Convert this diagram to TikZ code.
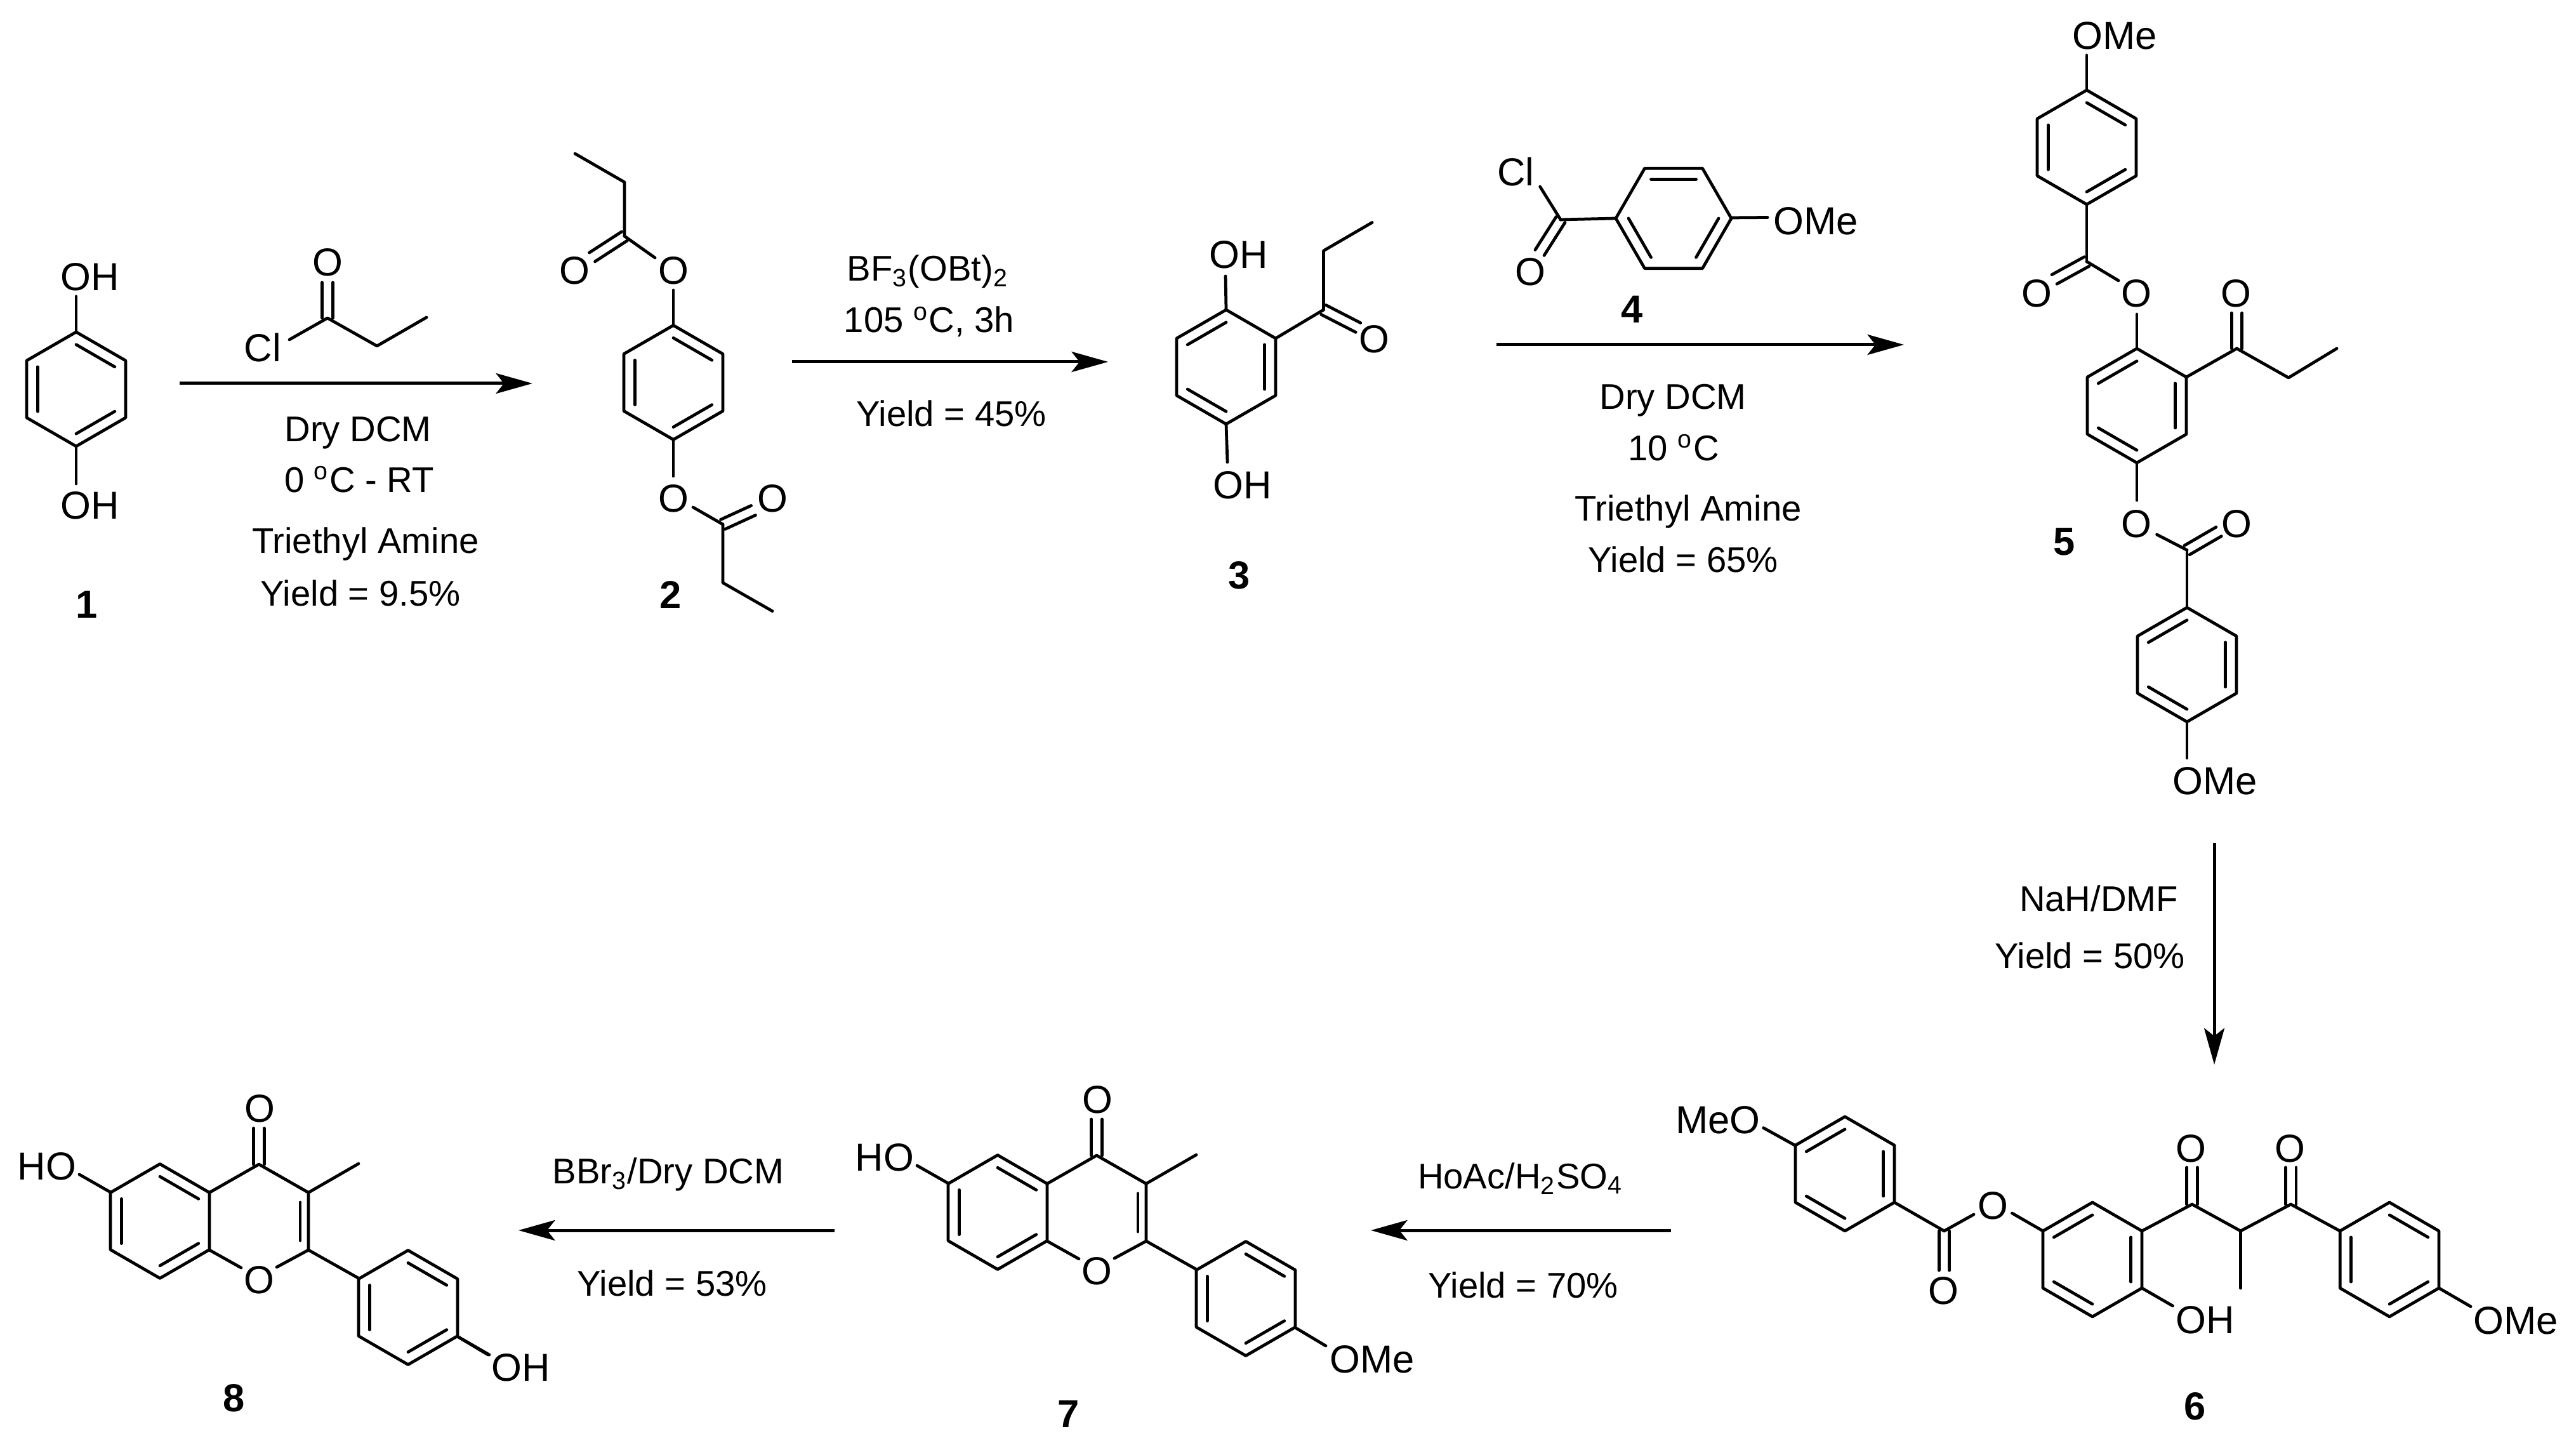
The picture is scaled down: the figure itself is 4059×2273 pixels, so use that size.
\documentclass[tikz,border=0pt]{standalone}
\usepackage{fontspec}
\setmainfont{Liberation Sans}
\usetikzlibrary{arrows.meta,calc}
\tikzset{
  bond/.style={line width=0.95pt, line cap=round, line join=round},
  rxnarrow/.style={line width=1pt, -{Stealth[length=11.5pt,width=6.4pt,inset=2.5pt]}},
  atom/.style={font=\fontsize{12.3}{14}\selectfont, inner sep=0pt},
  reagent/.style={font=\fontsize{11.25}{13}\selectfont, inner sep=0pt, anchor=base},
  compno/.style={font=\fontsize{12.3}{14}\selectfont\bfseries, inner sep=0pt},
}
% centre x, centre y, first angle, radius, bonds with an inner line
\newcommand{\hexring}[5]{
  \begin{scope}[shift={(#1,#2)}]
    \draw[bond] (#3:#4) -- (#3+60:#4) -- (#3+120:#4) -- (#3+180:#4) -- (#3+240:#4) -- (#3+300:#4) -- cycle;
    \foreach \k in {#5} {
      \draw[bond] (#3+60*\k:#4*0.78) -- (#3+60*\k+60:#4*0.78);
    }
  \end{scope}
}
\newcommand{\sbond}[2]{\draw[bond] (#1) -- (#2);}
\newcommand{\cdbl}[2]{
  \draw[bond] ($(#1)!1.66pt!90:(#2)$) -- ($(#2)!1.66pt!-90:(#1)$);
  \draw[bond] ($(#1)!1.66pt!-90:(#2)$) -- ($(#2)!1.66pt!90:(#1)$);
}
% shared skeleton of 7 and 8
\newcommand{\flavcore}{
  \hexring{1572}{1909.5}{90}{90}{1,3,5}
  \draw[bond] (1650,1864.5) -- (1728,1820) -- (1806,1864.5) -- (1806,1955) -- (1756,1982);
  \sbond{1650,1955}{1700,1983}
  \sbond{1793,1880}{1793,1940}
  \cdbl{1728,1820}{1728,1763}
  \sbond{1806,1864.5}{1885,1819}
  \sbond{1495,1864.5}{1445,1836}
  \sbond{1806,1955}{1886,2000}
  \hexring{1963}{2045.5}{90}{90}{1,3,5}
  \sbond{2040.5,2091}{2089,2120}
  \node[atom] (flo) at (1728,2002) {O};
  \node[atom] (flco) at (1729,1732) {O};
  \node[atom] (flho) at (1394,1823) {HO};
}
\begin{document}
\begin{tikzpicture}[x=0.2pt, y=-0.2pt]
  \useasboundingbox (0,0) rectangle (4059,2273);

  % 1
  \hexring{120}{613}{90}{90}{1,3,5}
  \sbond{120,523}{120,467}
  \sbond{120,703}{120,762}
  \node[atom] (oh1a) at (142,436) {OH};
  \node[atom] (oh1b) at (142,796) {OH};
  \node[compno] (n1) at (137,952) {1};

  % propionyl chloride
  \cdbl{516,501}{516,445}
  \draw[bond] (456,535) -- (516,501) -- (594,545) -- (672,500);
  \node[atom] (o1r) at (516,413) {O};
  \node[atom] (cl1r) at (414,548) {Cl};

  \coordinate (a1s) at (283,604);
  \coordinate (a1e) at (839,604);
  \draw[rxnarrow] (a1s) -- (a1e);
  \node[reagent] (t1a) at (564,696) {Dry DCM};
  \node[reagent] (t1b) at (566,775.6) {0 \textsuperscript{o}C - RT};
  \node[reagent] (t1c) at (576,872) {Triethyl Amine};
  \node[reagent] (t1d) at (568,954.5) {Yield = 9.5\%};

  % 2
  \hexring{1061}{602.5}{90}{90}{1,3,5}
  \sbond{1061,513}{1061,457}
  \sbond{1032,406}{984,372}
  \cdbl{984,372}{933,405}
  \draw[bond] (984,372) -- (984,287) -- (906,242);
  \sbond{1061,692}{1061,750}
  \sbond{1092,799}{1139,826}
  \cdbl{1139,826}{1187,804}
  \draw[bond] (1139,826) -- (1139,918) -- (1217,962.6);
  \node[atom] (o2a) at (1061,426) {O};
  \node[atom] (o2b) at (905.5,426) {O};
  \node[atom] (o2c) at (1061,785) {O};
  \node[atom] (o2d) at (1217,785) {O};
  \node[compno] (n2) at (1057,937) {2};

  \coordinate (a2s) at (1248,570);
  \coordinate (a2e) at (1746,570);
  \draw[rxnarrow] (a2s) -- (a2e);
  \node[reagent] (t2a) at (1462,443) {BF\textsubscript{3}(OBt)\textsubscript{2}};
  \node[reagent] (t2b) at (1464,524) {105 \textsuperscript{o}C, 3h};
  \node[reagent] (t2c) at (1499,672) {Yield = 45\%};

  % 3
  \hexring{1932}{578}{90}{90}{0,2,4}
  \sbond{1932,488}{1931,435}
  \sbond{1932,668}{1934,728}
  \sbond{2010,533}{2085.5,488}
  \cdbl{2085.5,488}{2140,516}
  \draw[bond] (2085.5,488) -- (2085.5,395) -- (2162,350.5);
  \node[atom] (oh3a) at (1951.5,401.5) {OH};
  \node[atom] (oh3b) at (1958,764) {OH};
  \node[atom] (o3) at (2165,534) {O};
  \node[compno] (n3) at (1953,906.6) {3};

  % 4
  \hexring{2637}{344}{0}{91}{0,2,4}
  \sbond{2426.6,294}{2459,346}
  \cdbl{2459,346}{2426,398}
  \sbond{2459,346}{2546,344}
  \sbond{2728,343}{2785,342.5}
  \node[atom] (cl4) at (2388.5,271) {Cl};
  \node[atom] (o4) at (2411,428) {O};
  \node[atom] (ome4) at (2861,348) {OMe};
  \node[compno] (n4) at (2572,487) {4};

  \coordinate (a3s) at (2358,543);
  \coordinate (a3e) at (3000,543);
  \draw[rxnarrow] (a3s) -- (a3e);
  \node[reagent] (t3a) at (2636,645) {Dry DCM};
  \node[reagent] (t3b) at (2637,725.5) {10 \textsuperscript{o}C};
  \node[reagent] (t3c) at (2660,821) {Triethyl Amine};
  \node[reagent] (t3d) at (2652,902) {Yield = 65\%};

  % 5
  \hexring{3288}{232}{90}{90}{1,3,5}
  \sbond{3288,142}{3288,87}
  \sbond{3288,322}{3288,412}
  \cdbl{3288,412}{3237,440}
  \sbond{3288,412}{3338,442}
  \sbond{3367,495}{3367,549}
  \hexring{3367}{639}{90}{90}{0,2,4}
  \sbond{3445,594}{3524.5,549}
  \cdbl{3524.5,549}{3524.5,493}
  \draw[bond] (3524.5,549) -- (3606,595) -- (3682,549);
  \sbond{3367,729}{3367,788}
  \sbond{3398.5,842}{3446,866.5}
  \cdbl{3446,866.5}{3496,837.5}
  \sbond{3446,866.5}{3446,958}
  \hexring{3446}{1047}{90}{90}{0,2,4}
  \sbond{3446,1137}{3446,1194}
  \node[atom] (ome5a) at (3332,56) {OMe};
  \node[atom] (o5a) at (3209,462) {O};
  \node[atom] (o5b) at (3366,462) {O};
  \node[atom] (o5c) at (3523,462) {O};
  \node[atom] (o5d) at (3366,825) {O};
  \node[atom] (o5e) at (3524.5,825) {O};
  \node[atom] (ome5b) at (3490,1230) {OMe};
  \node[compno] (n5) at (3253,854) {5};

  \coordinate (a4s) at (3489,1328);
  \coordinate (a4e) at (3489,1677);
  \draw[rxnarrow] (a4s) -- (a4e);
  \node[reagent] (t4a) at (3307,1435) {NaH/DMF};
  \node[reagent] (t4b) at (3293,1525) {Yield = 50\%};

  % 6
  \hexring{2907}{1849}{90}{90}{0,2,4}
  \sbond{2829,1804.5}{2778.6,1776.6}
  \sbond{2985,1894}{3063.4,1939}
  \cdbl{3063.4,1939}{3063.4,2001}
  \sbond{3063.4,1939}{3110,1913}
  \sbond{3170.4,1911}{3219,1939}
  \hexring{3297}{1984}{90}{90}{0,2,4}
  \sbond{3375,2029}{3423.5,2057}
  \sbond{3375,1939}{3454,1897}
  \cdbl{3454,1897}{3454,1839}
  \draw[bond] (3454,1897) -- (3530.5,1939) -- (3609.6,1897);
  \sbond{3530.5,1939}{3530.5,2029}
  \cdbl{3609.6,1897}{3609.6,1839}
  \sbond{3609.6,1897}{3687,1939}
  \hexring{3765}{1984}{90}{90}{1,3,5}
  \sbond{3843,2029}{3893,2058}
  \node[atom] (meo6) at (2707,1764) {MeO};
  \node[atom] (o6a) at (3062.5,2033.5) {O};
  \node[atom] (o6b) at (3140.6,1899) {O};
  \node[atom] (oh6) at (3475,2079) {OH};
  \node[atom] (o6c) at (3452,1809) {O};
  \node[atom] (o6d) at (3608.6,1809) {O};
  \node[atom] (ome6) at (3964,2080) {OMe};
  \node[compno] (n6) at (3459,2215) {6};

  \coordinate (a5s) at (2633,1938);
  \coordinate (a5e) at (2160,1938);
  \draw[rxnarrow] (a5s) -- (a5e);
  \node[reagent] (t5a) at (2396,1872.5) {HoAc/H\textsubscript{2}SO\textsubscript{4}};
  \node[reagent] (t5b) at (2400,2044.5) {Yield = 70\%};

  % 7
  \flavcore
  \node[atom] (ome7) at (2162,2141) {OMe};
  \node[compno] (n7) at (1684,2227) {7};

  \coordinate (a6s) at (1315,1938);
  \coordinate (a6e) at (817,1938);
  \draw[rxnarrow] (a6s) -- (a6e);
  \node[reagent] (t6a) at (1053,1864.5) {BBr\textsubscript{3}/Dry DCM};
  \node[reagent] (t6b) at (1059,2041) {Yield = 53\%};

  % 8
  \begin{scope}[shift={(-1320,14)}]
    \flavcore
  \end{scope}
  \sbond{720.5,2105}{771,2134}
  \node[atom] (oh8) at (821,2154) {OH};
  \node[compno] (n8) at (369,2202) {8};
\end{tikzpicture}
\end{document}
